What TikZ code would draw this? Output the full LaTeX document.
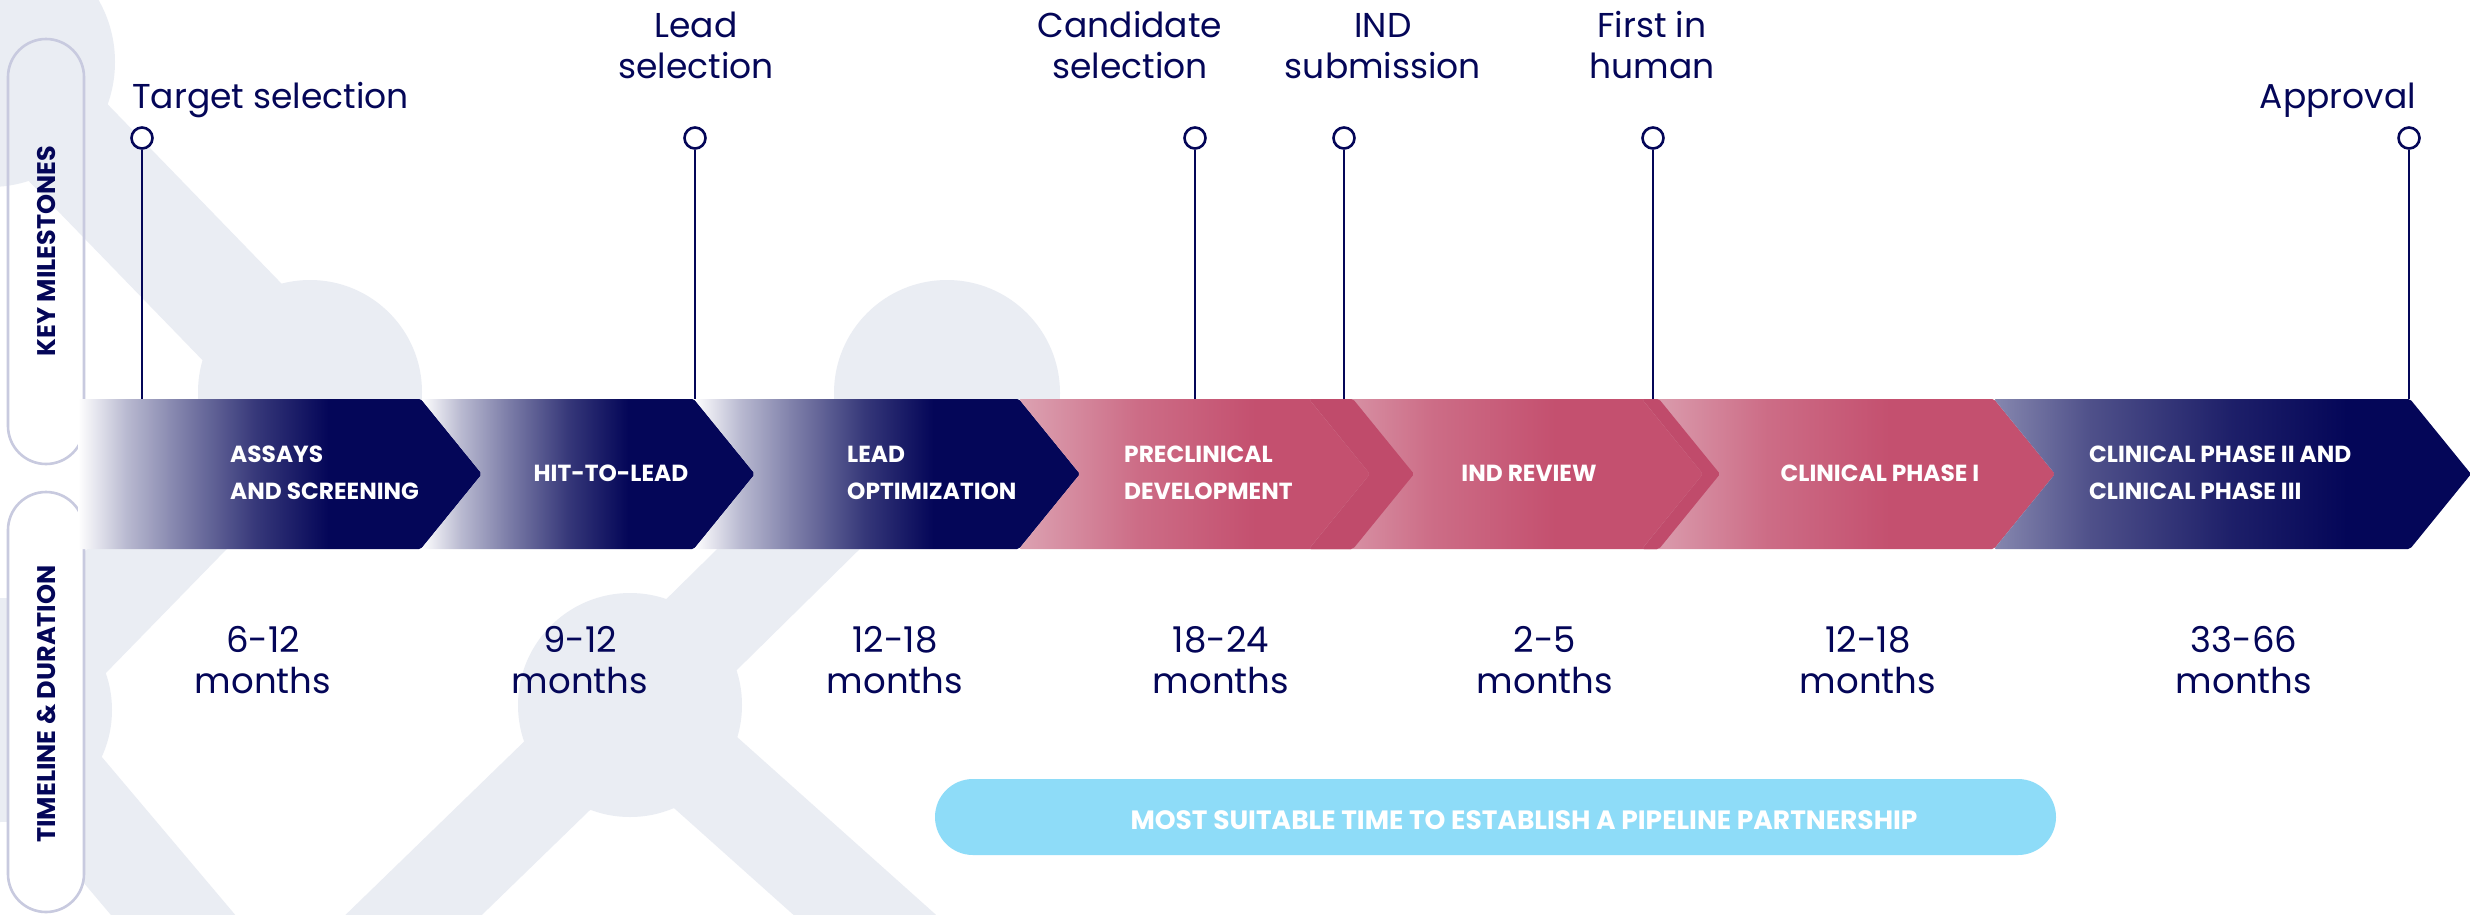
\documentclass[tikz,border=0pt]{standalone}
\usepackage{fontspec}
\setmainfont{Poppins}
\usetikzlibrary{calc}
\definecolor{navyC}{HTML}{040658}
\definecolor{pinkD}{HTML}{C4506F}
\definecolor{pinkL}{HTML}{DCA2B2}
\definecolor{pinkO}{HTML}{C04B6B}
\definecolor{skyC}{HTML}{8EDCF8}
\definecolor{bgC}{HTML}{EAEDF3}
\definecolor{pillC}{HTML}{C8CADF}
\pgfdeclarehorizontalshading{navyfade}{100bp}{color(0bp)=(white); color(25bp)=(white); color(31bp)=(navyC!28); color(38bp)=(navyC!52); color(47bp)=(navyC!80); color(56bp)=(navyC); color(100bp)=(navyC)}
\pgfdeclarehorizontalshading{pinkfade}{100bp}{color(0bp)=(pinkL); color(25bp)=(pinkL); color(40bp)=(pinkD!65!pinkL); color(55bp)=(pinkD); color(100bp)=(pinkD)}
\pgfdeclarehorizontalshading{navyend}{100bp}{color(0bp)=(navyC!48); color(25bp)=(navyC!48); color(35bp)=(navyC!70); color(50bp)=(navyC!90); color(62bp)=(navyC); color(100bp)=(navyC)}
\newcommand\chevshape[3]{\shade[shading=#3, rounded corners=2pt] (#1,399) -- (#2,399) -- ++(61,75) -- ++(-61,75) -- (#1,549) -- ++(61,-75) -- cycle;}
\newcommand\overlapstrip[2]{\fill[pinkO, rounded corners=2pt] (#1,399) -- (#2,399) -- ++(61,75) -- ++(-61,75) -- (#1,549) -- ++(61,-75) -- cycle;}
\begin{document}
\begin{tikzpicture}[x=1pt,y=-1pt,
  bgbar/.style={draw=bgC, line width=#1},
  pillbox/.style={draw=pillC, line width=2.6pt, rounded corners=38pt},
  mscircle/.style={circle, draw=navyC, line width=2.6pt, fill=white, minimum size=21pt, inner sep=0pt},
  stem/.style={draw=navyC, line width=2.6pt},
  mtext/.style={text=navyC, font=\fontsize{34.5}{40}\selectfont, inner sep=0pt, anchor=base},
  dtext/.style={text=navyC, font=\fontsize{35.5}{42}\selectfont, inner sep=0pt, anchor=base},
  ctext/.style={text=white, font=\bfseries\fontsize{23.3}{27}\selectfont, inner sep=0pt, anchor=base west},
  cctext/.style={ctext, anchor=base},
  sidetext/.style={text=navyC, font=\bfseries\fontsize{25.5}{30}\selectfont, inner sep=0pt, rotate=90},
  pilltext/.style={text=white, font=\bfseries\fontsize{26.5}{31}\selectfont, inner sep=0pt, anchor=base}]
\useasboundingbox (0,0) rectangle (2471,914);
\fill[white] (0,0) rectangle (2471,914);
% background watermark
\begin{scope}
\clip (0,0) rectangle (2471,914);
\fill[bgC] (-10,62) circle[radius=125pt];
\draw[bgbar=110pt] (-10,62) -- (310,392);
\fill[bgC] (310,392) circle[radius=112pt];
\draw[bgbar=100pt] (310,392) -- (0,710);
\fill[bgC] (0,710) circle[radius=112pt];
\draw[bgbar=95pt] (0,710) -- (250,1006);
\fill[bgC] (947,393) circle[radius=113pt];
\draw[bgbar=100pt] (947,393) -- (630,705);
\fill[bgC] (630,705) circle[radius=112pt];
\draw[bgbar=95pt] (630,705) -- (326,1000);
\draw[bgbar=95pt] (630,705) -- (960,1000);
\end{scope}
% side pills
\draw[pillbox] (8,39) rectangle (84,464);
\draw[pillbox, fill=white] (8,492) rectangle (84,912);
\node[sidetext] (km) at (47,251) {KEY MILESTONES};
\node[sidetext] (td) at (47,704) {TIMELINE \& DURATION};
% chevron band
\shade[shading=navyfade, rounded corners=2pt] (78,399) -- (421,399) -- ++(61,75) -- ++(-61,75) -- (78,549) -- cycle;
\chevshape{421}{694}{navyfade}
\chevshape{694}{1019}{navyfade}
\chevshape{1019}{1353}{pinkfade}
\chevshape{1309}{1659}{pinkfade}
\overlapstrip{1309}{1353}
\chevshape{1642}{1994}{pinkfade}
\overlapstrip{1642}{1659}
\chevshape{1994}{2410}{navyend}
% chevron labels
\node[ctext] (c1a) at (230,462) {ASSAYS};
\node[ctext] (c1b) at (230,499) {AND SCREENING};
\node[cctext] (c2) at (611,481) {HIT-TO-LEAD};
\node[ctext] (c3a) at (847,462) {LEAD};
\node[ctext] (c3b) at (847,499) {OPTIMIZATION};
\node[ctext] (c4a) at (1124,462) {PRECLINICAL};
\node[ctext] (c4b) at (1124,499) {DEVELOPMENT};
\node[cctext] (c5) at (1529,481) {IND REVIEW};
\node[cctext] (c6) at (1880,481) {CLINICAL PHASE I};
\node[ctext] (c7a) at (2089,462) {CLINICAL PHASE II AND};
\node[ctext] (c7b) at (2089,499) {CLINICAL PHASE III};
% milestones
\foreach \i/\x in {1/142,2/695,3/1195,4/1344,5/1653,6/2409}{
  \coordinate (s\i) at (\x,399);
  \node[mscircle] (m\i) at (\x,138) {};
  \draw[stem] (m\i) -- (s\i);
}
\node[mtext, anchor=base west] (t1) at (132,108) {Target selection};
\node[mtext] (t2a) at (696,37) {Lead};
\node[mtext] (t2b) at (696,78) {selection};
\node[mtext] (t3a) at (1130,37) {Candidate};
\node[mtext] (t3b) at (1130,78) {selection};
\node[mtext] (t4a) at (1383,37) {IND};
\node[mtext] (t4b) at (1383,78) {submission};
\node[mtext] (t5a) at (1652,37) {First in};
\node[mtext] (t5b) at (1652,78) {human};
\node[mtext, anchor=base east] (t6) at (2416,108) {Approval};
% durations
\foreach \i/\x/\r in {1/263/6-12,2/580/9-12,3/895/12-18,4/1221/18-24,5/1545/2-5,6/1868/12-18,7/2244/33-66}{
  \node[dtext] (d\i a) at (\x,652) {\r};
  \node[dtext] (d\i b) at (\x,693) {months};
}
% partnership pill
\fill[skyC, rounded corners=38pt] (935,779) rectangle (2056,855);
\node[pilltext] (pp) at (1524,829) {MOST SUITABLE TIME TO ESTABLISH A PIPELINE PARTNERSHIP};
\end{tikzpicture}
\end{document}
